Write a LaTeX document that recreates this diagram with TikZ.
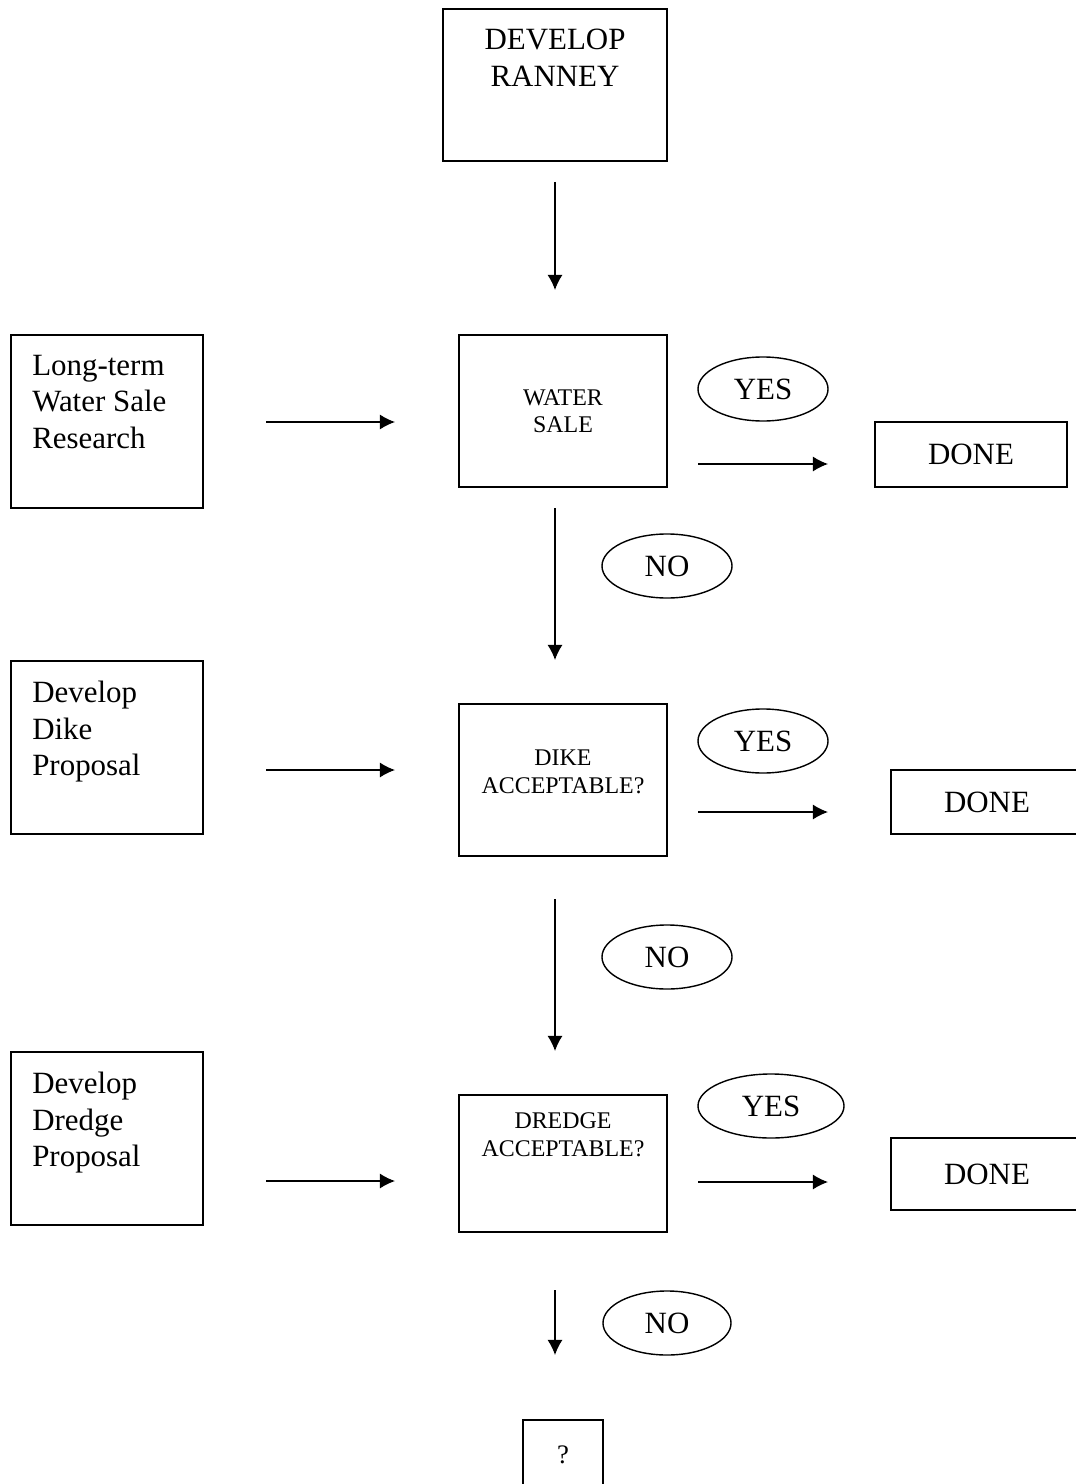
\documentclass[tikz,border=0pt]{standalone}
\usepackage{fontspec}
\setmainfont{Liberation Serif}
\usetikzlibrary{shapes.geometric,arrows.meta}
\newcommand{\grande}{\fontsize{22}{25.8}\selectfont}
\newcommand{\piccolo}{\fontsize{17}{19.7}\selectfont}

\begin{document}
\begin{tikzpicture}[x=0.025cm, y=-0.025cm,
        scatola/.style={draw, rectangle, line width=1.3pt, inner sep=0pt, outer sep=0pt},
        testo/.style={inner sep=0pt, font=\grande},
        bolla/.style={draw, ellipse, line width=1pt, inner sep=0pt, minimum width=3.25cm, minimum height=1.6cm, font=\grande},
        freccia/.style={line width=1pt, -{Latex[length=3.8mm,width=3.8mm]}}]
        \useasboundingbox (0,0) rectangle (1076,1484);
        %disegno riquadro iniziale
        \node[scatola, minimum width=5.6cm, minimum height=3.8cm] (ranney) at (555,85) {};
        \node[testo, anchor=north, align=center] (ranneyt) at (555,29) {DEVELOP\\RANNEY};
        \coordinate (a0) at (555,182);
        \coordinate (b0) at (555,290);
        \draw[freccia] (a0)-- (b0);
        %disegno prima riga: vendita acqua
        \node[scatola, minimum width=4.8cm, minimum height=4.325cm] (ricerca) at (107,421.5) {};
        \node[testo, anchor=north west, align=left] (ricercat) at (32,355) {Long-term\\Water Sale\\Research};
        \node[scatola, minimum width=5.2cm, minimum height=3.8cm] (vendita) at (563,411) {};
        \node[testo, anchor=north, align=center, font=\piccolo] (venditat) at (563,389) {WATER\\SALE};
        \node[bolla] (si1) at (763,389) {YES};
        \node[scatola, minimum width=4.8cm, minimum height=1.625cm, font=\grande] (fatto1) at (971,454.5) {DONE};
        \node[bolla] (no1) at (667,566) {NO};
        \coordinate (a1) at (266,422);
        \coordinate (b1) at (395,422);
        \coordinate (c1) at (698,464);
        \coordinate (d1) at (828,464);
        \coordinate (e1) at (555,508);
        \coordinate (f1) at (555,660);
        \draw[freccia] (a1)-- (b1);
        \draw[freccia] (c1)-- (d1);
        \draw[freccia] (e1)-- (f1);
        %disegno seconda riga: argine
        \node[scatola, minimum width=4.8cm, minimum height=4.325cm] (argine) at (107,747.5) {};
        \node[testo, anchor=north west, align=left] (arginet) at (32,681) {Develop\\Dike\\Proposal};
        \node[scatola, minimum width=5.2cm, minimum height=3.8cm] (accargine) at (563,780) {};
        \node[testo, anchor=north, align=center, font=\piccolo] (accarginet) at (563,750) {DIKE\\ACCEPTABLE?};
        \node[bolla] (si2) at (763,741) {YES};
        \node[scatola, minimum width=4.8cm, minimum height=1.6cm, font=\grande] (fatto2) at (987,802) {DONE};
        \node[bolla] (no2) at (667,957) {NO};
        \coordinate (a2) at (266,770);
        \coordinate (b2) at (395,770);
        \coordinate (c2) at (698,812);
        \coordinate (d2) at (828,812);
        \coordinate (e2) at (555,899);
        \coordinate (f2) at (555,1051);
        \draw[freccia] (a2)-- (b2);
        \draw[freccia] (c2)-- (d2);
        \draw[freccia] (e2)-- (f2);
        %disegno terza riga: dragaggio
        \node[scatola, minimum width=4.8cm, minimum height=4.325cm] (draga) at (107,1138.5) {};
        \node[testo, anchor=north west, align=left] (dragat) at (32,1072) {Develop\\Dredge\\Proposal};
        \node[scatola, minimum width=5.2cm, minimum height=3.425cm] (accdraga) at (563,1163.5) {};
        \node[testo, anchor=north, align=center, font=\piccolo] (accdragat) at (563,1112.5) {DREDGE\\ACCEPTABLE?};
        \node[bolla, minimum width=3.65cm] (si3) at (771,1106) {YES};
        \node[scatola, minimum width=4.8cm, minimum height=1.8cm, font=\grande] (fatto3) at (987,1174) {DONE};
        \node[bolla, minimum width=3.2cm] (no3) at (667,1323) {NO};
        \coordinate (a3) at (266,1181);
        \coordinate (b3) at (395,1181);
        \coordinate (c3) at (698,1182);
        \coordinate (d3) at (828,1182);
        \coordinate (e3) at (555,1290);
        \coordinate (f3) at (555,1355);
        \draw[freccia] (a3)-- (b3);
        \draw[freccia] (c3)-- (d3);
        \draw[freccia] (e3)-- (f3);
        %disegno riquadro finale
        \node[scatola, minimum width=2cm, minimum height=1.75cm, font=\fontsize{19}{22}\selectfont] (ignoto) at (563,1455) {?};
\end{tikzpicture}
\end{document}
